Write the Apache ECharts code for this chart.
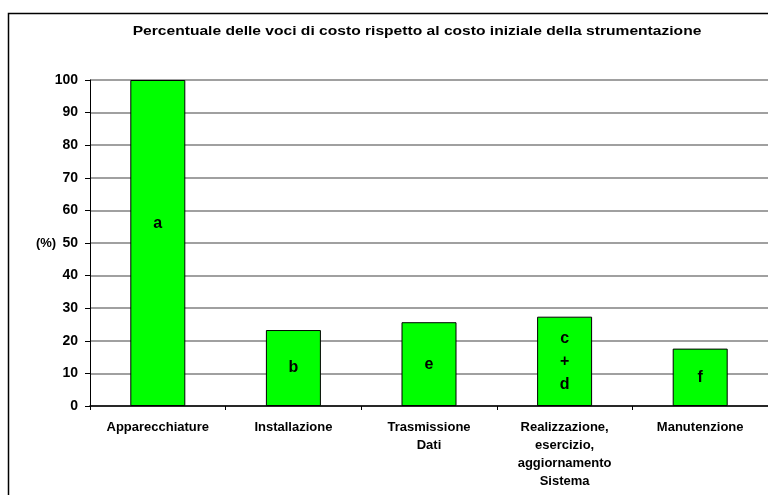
<!DOCTYPE html>
<html>
<head>
<meta charset="utf-8">
<script src="https://cdn.jsdelivr.net/npm/echarts@6/dist/echarts.min.js"></script>
<style>
html,body{margin:0;padding:0;background:#fff;}
#c{width:768px;height:495px;}
</style>
</head>
<body>
<div id="c"></div>
<script>
const categories = ['Apparecchiature', 'Installazione', 'Trasmissione\nDati', 'Realizzazione,\nesercizio,\naggiornamento\nSistema', 'Manutenzione'];
const values = [100, 23.3, 25.7, 27.4, 17.6];
const barLetters = ['a', 'b', 'e', 'c\n+\nd', 'f'];
const yTicks = [0, 10, 20, 30, 40, 50, 60, 70, 80, 90, 100];
const titleText = 'Percentuale delle voci di costo rispetto al costo iniziale della strumentazione';

const chart = echarts.init(document.getElementById('c'), null, {renderer: 'canvas'});
const FONT = 'Liberation Sans, Arial, sans-serif';
chart.setOption({
  animation: false,
  backgroundColor: '#ffffff',
  graphic: [
    {type: 'rect', shape: {x: 8.5, y: 13.5, width: 800, height: 520}, style: {fill: 'none', stroke: '#000', lineWidth: 1.5}, silent: true},
    {type: 'text', x: 417, y: 31, scaleX: 1.2, scaleY: 1, originX: 0, originY: 0,
      style: {text: titleText, font: 'bold 13px ' + FONT, fill: '#000', align: 'center', verticalAlign: 'middle'}},
    {type: 'text', x: 46, y: 243, style: {text: '(%)', font: 'bold 13px ' + FONT, fill: '#000', align: 'center', verticalAlign: 'middle'}}
  ],
  grid: {left: 90, top: 80, width: 680, bottom: 89, containLabel: false},
  xAxis: {
    type: 'category',
    data: categories,
    axisLine: {lineStyle: {color: '#000', width: 1.5}},
    axisTick: {show: true, alignWithLabel: false, length: 4, lineStyle: {color: '#000'}},
    axisLabel: {interval: 0, fontFamily: FONT, fontWeight: 'bold', fontSize: 13, color: '#000', lineHeight: 17.8, margin: 13}
  },
  yAxis: {
    type: 'value', min: 0, max: 100, interval: 10,
    axisLine: {show: true, lineStyle: {color: '#000', width: 1}},
    axisTick: {show: true, length: 5, lineStyle: {color: '#000'}},
    splitLine: {show: true, lineStyle: {color: '#808080', width: 1.5}},
    axisLabel: {fontFamily: FONT, fontWeight: 'bold', fontSize: 14, color: '#000', margin: 12,
      formatter: v => yTicks.includes(v) ? String(v) : ''}
  },
  series: [{
    type: 'bar',
    barWidth: 55,
    data: values.map((v, i) => ({
      value: v,
      label: {
        show: true, position: 'inside', formatter: barLetters[i],
        offset: i === 0 ? [0, -19] : [0, 0],
        fontFamily: FONT, fontWeight: 'bold', fontSize: 16, color: '#000', lineHeight: 23
      }
    })),
    itemStyle: {color: '#00ff00', borderColor: '#000', borderWidth: 1}
  }]
});
</script>
</body>
</html>
